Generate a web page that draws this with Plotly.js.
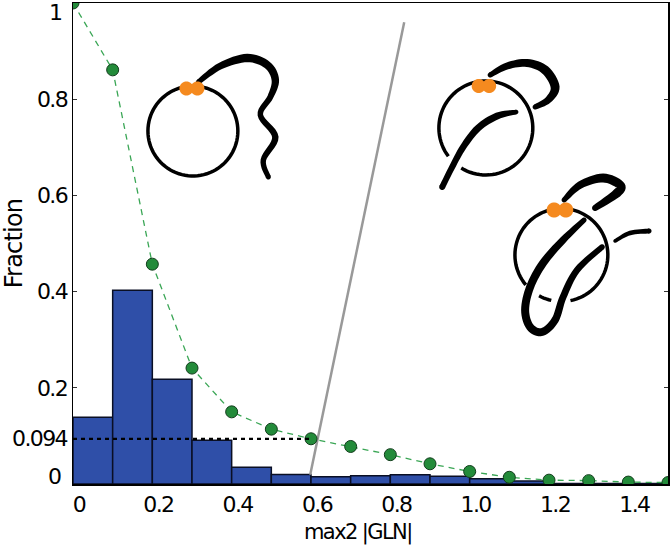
<!DOCTYPE html>
<html><head><meta charset="utf-8">
<script src="https://cdn.plot.ly/plotly-3.0.1.min.js"></script>
<style>html,body{margin:0;padding:0;background:#fff}
.xtick text,.ytick text,.annotation-text{letter-spacing:-1.6px}
.ytitle{letter-spacing:-0.8px}</style></head>
<body><div id="chart" style="width:670px;height:546px"></div>
<script>
const binCenters=[0.05,0.15,0.25,0.35,0.45,0.55,0.65,0.75,0.85,0.95,1.05,1.15,1.25,1.35,1.45];
const binFractions=[0.139,0.403,0.218,0.091,0.035,0.020,0.015,0.017,0.019,0.016,0.011,0.006,0.001,0.001,0.001];
const curveX=[0,0.1,0.2,0.3,0.4,0.5,0.6,0.7,0.8,0.9,1.0,1.1,1.2,1.3,1.4,1.5];
const curveY=[1,0.861,0.457,0.241,0.150,0.114,0.094,0.078,0.061,0.042,0.026,0.014,0.008,0.007,0.004,0.003];
const thresholdX=[0,0.6];
const thresholdY=[0.094,0.094];
const dividerX=[0.598,0.835];
const dividerY=[0.019,0.96];
const yTicks=[0.2,0.4,0.6,0.8];
const yTickText=['0.2','0.4','0.6','0.8'];
const xTicks=[0,0.2,0.4,0.6,0.8,1.0,1.2,1.4];
const xTickText=['0','0.2','0.4','0.6','0.8','1.0','1.2','1.4'];

const W=670,H=546,L=72.5,R=668,T=3,B=484;
const FONT='"DejaVu Sans", sans-serif';
const px=(x,y)=>((x-L)/(R-L)).toFixed(5)+','+((B-y)/(B-T)).toFixed(5);
function arc(cx,cy,r,a0,a1){
  const n=Math.max(2,Math.ceil(Math.abs(a1-a0)/4));let d='';
  for(let i=0;i<=n;i++){
    const t=(a0+(a1-a0)*i/n)*Math.PI/180;
    d+=(i?' L':'M')+px(cx+r*Math.cos(t),cy+r*Math.sin(t));
  }
  return d;
}
const stroke=(path,width)=>({type:'path',xref:'paper',yref:'paper',path,line:{color:'#000',width},layer:'above'});
const fillShape=(path,color)=>({type:'path',xref:'paper',yref:'paper',path,fillcolor:color,line:{color,width:0},layer:'above'});
const dot=(x,y,r)=>fillShape(arc(x,y,r,0,360)+' Z','#f58a1f');
// tapered brush stroke: each point is [x, y, width] in picture pixels
function ribbon(p){
  const s=[];
  for(let i=0;i<p.length-1;i++){
    const a=p[Math.max(i-1,0)],b=p[i],c=p[i+1],e=p[Math.min(i+2,p.length-1)];
    for(let k=0;k<8;k++){
      const t=k/8,t2=t*t,t3=t2*t;
      const f=j=>0.5*(2*b[j]+(c[j]-a[j])*t+(2*a[j]-5*b[j]+4*c[j]-e[j])*t2+(3*b[j]-a[j]-3*c[j]+e[j])*t3);
      s.push([f(0),f(1),b[2]+(c[2]-b[2])*t]);
    }
  }
  s.push(p[p.length-1]);
  const left=[],right=[];
  s.forEach((q,i)=>{
    const u=s[Math.max(i-1,0)],v=s[Math.min(i+1,s.length-1)];
    const dx=v[0]-u[0],dy=v[1]-u[1],m=Math.hypot(dx,dy)||1,h=q[2]/2;
    left.push(px(q[0]-dy/m*h,q[1]+dx/m*h));
    right.unshift(px(q[0]+dy/m*h,q[1]-dx/m*h));
  });
  const first=s[0],last=s[s.length-1];
  return [
    fillShape('M'+left.concat(right).join(' L')+' Z','#000'),
    fillShape(arc(first[0],first[1],first[2]/2,0,360)+' Z','#000'),
    fillShape(arc(last[0],last[1],last[2]/2,0,360)+' Z','#000')
  ];
}

const shapes=[
 stroke(arc(192.5,131,45,0,360),3.5),
 ...ribbon([[198,82,5],[220,66,7],[247,58,8.5],[267,65,8],[275,80,7.5],[270,97,6],[260,115,5.5],[275,137,6.5],[263,160,5.5],[268,177,5]]),
 dot(186,88.5,7),dot(197,88.5,7),
 stroke(arc(485.7,128,47,121.6,-217),3.5),
 ...ribbon([[490,75,5],[507,66,7],[527,63,8],[545,70,9],[555,87,9],[548,100,7],[535,107,5]]),
 ...ribbon([[516,112,4.5],[497,116,7],[478,128,7],[463,147,6.5],[452,167,6],[442,187,6]]),
 dot(478.5,86,7),dot(489,86,7),
 stroke(arc(561.3,255,46.5,78.7,-220),3.5),
 stroke(arc(561.3,255,46.5,118.7,102.6),3.5),
 ...ribbon([[564,200,5],[580,185,7.5],[603,178,9],[620,185,9],[617,193,9],[595,208,6]]),
 ...ribbon([[615,241,3.5],[630,233,4.5],[649,231,5]]),
 ...ribbon([[584,220,5],[563,240,7],[543,263,8],[530,287,8],[525,310,8],[530,327,8],[542,332,8],[555,320,7.5],[563,297,7],[577,270,6.5],[602,247,5.5]]),
 dot(554,210,7.5),dot(565.7,210,7.5)
];

const traces=[
 {type:'bar',x:binCenters,y:binFractions,width:0.1,marker:{color:'#2f4fa8',line:{color:'#0a0f24',width:1.5}},hoverinfo:'skip'},
 {type:'scatter',mode:'lines',x:dividerX,y:dividerY,line:{color:'#999',width:2.5},hoverinfo:'skip'},
 {type:'scatter',mode:'lines+markers',x:curveX,y:curveY,line:{color:'#3aa655',width:1.3,dash:'6px,5px'},marker:{color:'#238b3a',size:12,line:{color:'#123d1c',width:1}},hoverinfo:'skip'},
 {type:'scatter',mode:'lines',x:thresholdX,y:thresholdY,line:{color:'#000',width:2.2,dash:'4px,4px'},hoverinfo:'skip'}
];
const yLab=(text,y,right)=>({xref:'paper',yref:'paper',x:(right-L)/(R-L),y:(B-y)/(B-T),xanchor:'right',yanchor:'middle',text,showarrow:false,font:{family:FONT,size:22,color:'#000'}});
const layout={
 width:W,height:H,margin:{l:L,r:W-R,t:T,b:H-B,pad:0},paper_bgcolor:'#fff',plot_bgcolor:'#fff',showlegend:false,
 font:{family:FONT,size:22,color:'#000'},bargap:0,
 xaxis:{range:[0,1.5],tickvals:xTicks,ticktext:xTickText,ticks:'',showgrid:false,zeroline:false,showline:true,mirror:true,linecolor:'#000',linewidth:1.5,ticklabelshift:6,ticklabelstandoff:0,tickfont:{family:FONT,size:22}},
 yaxis:{range:[0,1],tickvals:yTicks,ticktext:yTickText,ticks:'inside',ticklen:4,tickwidth:1,tickcolor:'#333',showgrid:false,zeroline:false,showline:true,mirror:'ticks',linecolor:'#000',linewidth:1.5,tickfont:{family:FONT,size:22},
  title:{text:'Fraction',font:{family:FONT,size:24},standoff:13}},
 shapes,
 annotations:[yLab('1',12.5,62),yLab('0.094',438,69),yLab('0',476,62),
  {xref:'paper',yref:'paper',x:(358-L)/(R-L),y:(B-532)/(B-T),xanchor:'center',yanchor:'middle',text:'max2 |GLN|',showarrow:false,font:{family:FONT,size:21,color:'#000'}}]
};
Plotly.newPlot('chart',traces,layout,{displayModeBar:false,staticPlot:true});
</script></body></html>
